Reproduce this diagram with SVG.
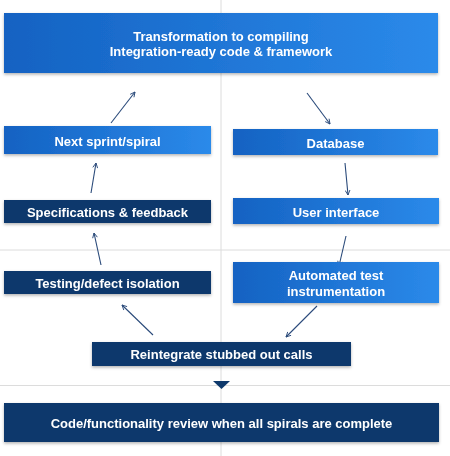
<svg xmlns="http://www.w3.org/2000/svg" width="450" height="456" viewBox="0 0 450 456">
<style>
.t{font-family:"Liberation Sans",Arial,sans-serif;font-weight:bold;font-size:13px;fill:#fff;text-anchor:middle}
.grid{stroke:#dcdcdc;stroke-width:1}
.c{fill:none;stroke:#2a4a7a;stroke-width:1.1;marker-end:url(#ah)}
.navy{fill:#0e396c}
.blue{fill:url(#g)}
</style>
<defs>
<linearGradient id="g" x1="0" y1="0" x2="1" y2="0">
<stop offset="0" stop-color="#1462c2"/>
<stop offset="1" stop-color="#2b8aea"/>
</linearGradient>
<filter id="sh" x="-5%" y="-20%" width="110%" height="150%">
<feDropShadow dx="0" dy="1.5" stdDeviation="1.5" flood-color="#000" flood-opacity="0.3"/>
</filter>
<marker id="ah" viewBox="0 0 10 10" refX="9" refY="5" markerWidth="6" markerHeight="6" orient="auto" markerUnits="userSpaceOnUse">
<path d="M1,1 L9,5 L1,9" fill="none" stroke="#2a4a7a" stroke-width="1.5"/>
</marker>
</defs>
<rect width="450" height="456" fill="#fff"/>
<g id="background">
<line class="grid" x1="221" y1="0" x2="221" y2="456"/>
<line class="grid" x1="0" y1="250" x2="450" y2="250"/>
<line class="grid" x1="0" y1="385.5" x2="450" y2="385.5"/>
</g>
<g id="connectors">
<line class="c" x1="111" y1="123" x2="135" y2="92"/>
<line class="c" x1="307" y1="93" x2="330" y2="124"/>
<line class="c" x1="91" y1="193" x2="96" y2="163"/>
<line class="c" x1="345" y1="163" x2="348" y2="195"/>
<line class="c" x1="101" y1="265" x2="94" y2="233"/>
<line class="c" x1="346" y1="236" x2="339" y2="266"/>
<line class="c" x1="153" y1="335" x2="122" y2="305"/>
<line class="c" x1="317" y1="306" x2="286" y2="337"/>
<path id="down-triangle" d="M213,381 L230,381 L221.5,389 Z" fill="#0e396c"/>
</g>
<g id="n-top" filter="url(#sh)">
<rect class="blue" x="4" y="13" width="434" height="60"/>
<text class="t" x="221" y="41">Transformation to compiling</text>
<text class="t" x="221" y="56">Integration-ready code &amp; framework</text>
</g>
<g id="n-next" filter="url(#sh)">
<rect class="blue" x="4" y="126" width="207" height="28"/>
<text class="t" x="107.5" y="146">Next sprint/spiral</text>
</g>
<g id="n-db" filter="url(#sh)">
<rect class="blue" x="233" y="129" width="205" height="26"/>
<text class="t" x="335.5" y="147.5">Database</text>
</g>
<g id="n-spec" filter="url(#sh)">
<rect class="navy" x="4" y="200" width="207" height="23"/>
<text class="t" x="107.5" y="216.5">Specifications &amp; feedback</text>
</g>
<g id="n-ui" filter="url(#sh)">
<rect class="blue" x="233" y="198" width="206" height="26"/>
<text class="t" x="336" y="216.5">User interface</text>
</g>
<g id="n-test" filter="url(#sh)">
<rect class="navy" x="4" y="271" width="207" height="23"/>
<text class="t" x="107.5" y="287.5">Testing/defect isolation</text>
</g>
<g id="n-auto" filter="url(#sh)">
<rect class="blue" x="233" y="262" width="206" height="41"/>
<text class="t" x="336" y="280">Automated test</text>
<text class="t" x="336" y="295.5">instrumentation</text>
</g>
<g id="n-reint" filter="url(#sh)">
<rect class="navy" x="92" y="342" width="259" height="24"/>
<text class="t" x="221.5" y="358.5">Reintegrate stubbed out calls</text>
</g>
<g id="n-review" filter="url(#sh)">
<rect class="navy" x="4" y="403" width="435" height="39"/>
<text class="t" x="221.5" y="427.5">Code/functionality review when all spirals are complete</text>
</g>
</svg>
